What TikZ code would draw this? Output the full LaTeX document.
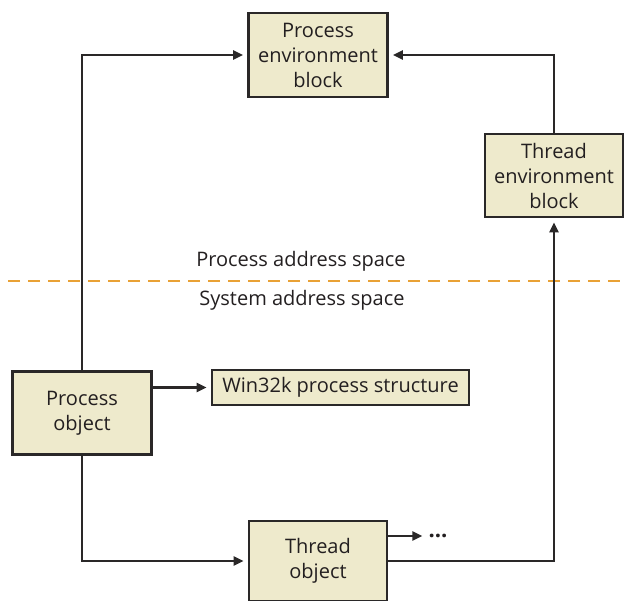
\documentclass[tikz,border=0pt]{standalone}
\usepackage{fontspec}
\setmainfont{Open Sans}
\usetikzlibrary{arrows.meta}
\definecolor{boxfill}{HTML}{EEEACC}
\definecolor{boxline}{HTML}{2A2828}
\definecolor{txt}{HTML}{231F20}
\definecolor{dashor}{HTML}{E9A135}
\tikzset{
  box/.style={draw=boxline, line width=2.6pt, fill=boxfill, text=txt, align=center,
    inner sep=0pt, font=\fontsize{20}{25}\selectfont},
  conn/.style={draw=boxline, line width=2.4pt},
  arr/.style={conn, -{Triangle[length=10pt,width=9pt]}, shorten >=4pt},
  lbl/.style={text=txt, font=\fontsize{20}{25}\selectfont, inner sep=0pt},
}
\begin{document}
\begin{tikzpicture}[x=1pt,y=-1pt]
\useasboundingbox (0,0) rectangle (624,600);
\node[box, minimum width=139pt, minimum height=84pt] (peb) at (318,55) {Process\\environment\\block};
\node[box, minimum width=138pt, minimum height=83pt] (teb) at (554,175.5) {Thread\\environment\\block};
\node[box, minimum width=139pt, minimum height=83pt] (proc) at (82,413) {Process\\object};
\node[box, minimum width=257pt, minimum height=35pt] (win) at (340.5,387.5) {Win32k process structure};
\node[box, minimum width=138pt, minimum height=80pt] (thr) at (318,561) {Thread\\object};
\node[lbl] (pas) at (301,261) {Process address space};
\node[lbl] (sas) at (302,300) {System address space};
\coordinate (dl) at (8,281);
\coordinate (dr) at (624,281);
\draw[dashor, line width=2.6pt, dash pattern=on 12pt off 8pt] (dl) -- (dr);
\node[lbl, font=\bfseries\fontsize{22}{24}\selectfont] (dots) at (438,536) {...};
\coordinate (thrup) at (387,536);
\draw[arr] (proc.north) |- (peb.west);
\draw[arr] (teb.north) |- (peb.east);
\draw[arr] (win.west -| proc.east) -- (win.west);
\draw[arr] (proc.south) |- (thr.west);
\draw[arr] (thr.east) -| (teb.south);
\draw[conn, -{Triangle[length=10pt,width=9pt]}] (thrup) -- ([xshift=-6pt]dots.west |- thrup);
\end{tikzpicture}
\end{document}
